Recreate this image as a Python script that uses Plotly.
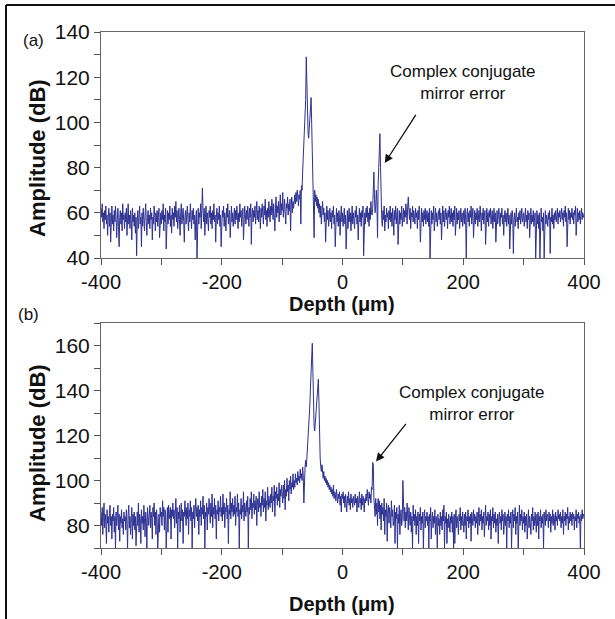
import numpy as np
import plotly.graph_objects as go

# ---------------- data ----------------
depth = np.arange(-400, 401, 1)  # sampling grid (um), 801 samples

amp_a = [
    62,58,64,56,60,53,61,57,63,55,59,50,58,62,54,60,47,57,63,55,
    59,52,61,56,63,58,49,57,62,54,45,58,61,55,60,52,64,57,59,53,
    60,56,62,50,58,64,55,59,53,61,57,48,62,56,59,54,60,51,58,41,
    56,61,53,59,63,55,58,45,60,54,62,57,52,59,64,56,50,58,61,55,
    59,53,62,57,60,48,58,55,63,59,52,60,56,61,54,58,62,49,57,60,
    55,61,57,64,52,59,56,62,44,58,61,55,60,57,63,54,59,51,62,57,
    60,54,63,58,65,56,61,53,59,62,57,50,60,64,55,59,62,56,47,58,
    61,55,59,63,57,52,60,56,64,58,53,61,57,62,55,59,48,57,61,40,
    57,62,55,60,58,64,53,59,71,61,56,62,50,58,63,55,60,57,52,61,
    58,63,55,60,53,61,57,64,56,59,47,58,62,55,60,57,63,54,59,45,
    56,61,58,63,54,60,57,52,62,58,64,55,59,61,49,57,63,56,60,54,
    59,62,55,61,57,63,58,53,60,56,64,58,61,54,59,62,48,57,63,59,
    55,61,57,63,59,54,62,58,64,46,59,62,56,61,58,63,55,60,65,57,
    61,56,63,59,53,62,58,64,60,55,63,59,66,57,61,54,62,58,65,60,
    56,63,59,66,61,57,64,60,52,62,67,58,63,60,65,56,62,68,59,64,
    61,69,58,63,66,60,55,64,62,67,59,64,61,66,52,63,67,60,65,62,
    66,68,64,69,65,70,67,63,68,66,70,55,72,70,78,85,88,92,98,110,
    129,112,98,95,93,97,103,108,111,99,86,74,66,49,70,65,68,63,67,62,
    66,60,64,58,63,55,61,65,59,62,56,60,47,58,63,57,61,54,59,62,
    56,60,53,61,58,63,55,59,45,57,62,56,60,54,61,58,50,59,63,56,
    60,54,58,62,55,59,44,57,61,53,59,62,56,60,52,58,63,55,60,57,
    53,61,58,63,55,59,48,57,62,56,60,54,61,58,63,41,57,60,55,62,
    58,63,56,60,54,62,57,65,60,59,62,68,78,66,60,63,70,65,49,72,
    84,90,95,80,62,57,54,61,57,63,52,59,56,62,58,60,53,61,57,63,
    56,60,54,62,58,50,61,57,63,55,59,62,46,58,61,55,60,57,63,54,
    59,62,56,61,58,64,60,55,63,67,61,57,62,53,60,58,63,56,61,59,
    55,62,58,60,53,61,57,63,59,47,58,62,56,60,54,61,57,62,55,59,
    61,56,60,54,62,40,58,61,55,60,57,63,52,59,62,56,60,54,58,61,
    57,62,55,60,48,58,63,56,61,54,59,62,57,60,53,61,58,63,55,59,
    62,56,60,54,61,57,63,50,58,62,55,60,57,61,53,59,62,56,60,54,
    58,61,55,62,57,40,59,62,56,60,54,61,58,63,55,59,62,49,57,61,
    55,60,57,62,54,59,61,56,63,58,52,60,57,62,55,59,61,46,58,62,
    56,60,54,61,58,62,55,59,61,53,58,62,56,60,47,57,61,55,59,62,
    57,54,60,58,62,55,59,50,57,61,56,60,54,58,62,55,59,44,57,60,
    55,61,58,42,57,60,54,59,62,56,58,53,60,57,61,55,59,62,56,58,
    60,54,58,62,56,59,53,61,57,60,49,58,62,55,59,56,61,54,58,60,
    40,57,61,55,59,53,60,40,57,62,56,58,52,60,40,58,61,55,59,57,
    54,60,57,61,42,58,56,62,55,59,53,60,57,61,56,59,62,55,60,58,
    61,56,59,62,57,60,54,61,58,63,56,60,45,59,62,57,61,55,60,58,
    62,57,60,55,61,59,63,50,58,62,56,60,57,61,55,59,62,57,60,58,
    59,
]

amp_b = [
    86,80,88,76,84,90,79,85,82,72,87,81,84,77,86,89,80,84,74,85,
    82,88,77,84,70,86,80,83,89,78,85,73,84,81,87,79,83,76,86,82,
    84,78,87,81,70,85,89,79,84,76,83,88,74,85,80,86,78,84,71,82,
    86,80,90,77,85,83,72,87,81,84,78,89,83,75,86,82,70,88,84,80,
    85,89,79,86,83,74,88,84,90,80,86,76,87,83,70,81,85,77,88,84,
    86,80,91,84,88,78,87,85,70,82,88,77,89,85,83,88,74,87,84,90,
    83,87,79,85,92,81,88,70,86,83,89,77,85,90,82,87,72,86,84,91,
    85,80,88,83,90,76,87,84,91,82,88,70,86,83,89,79,87,92,84,88,
    82,89,76,87,84,91,80,88,85,93,83,89,70,86,84,90,78,88,85,92,
    86,81,90,84,94,79,88,85,92,83,89,74,87,85,91,82,88,86,93,84,
    88,82,94,85,90,79,88,86,92,83,89,72,87,85,95,83,90,86,92,84,
    89,85,93,80,88,86,94,84,90,70,87,85,92,83,89,86,95,82,90,87,
    84,91,86,93,70,88,85,92,87,95,83,90,88,94,85,91,87,93,80,90,
    92,86,95,88,90,84,93,89,96,86,92,88,95,82,91,89,97,87,93,90,
    88,94,90,97,86,93,91,98,84,95,92,97,89,94,91,99,88,96,93,98,
    94,90,98,92,100,87,96,93,101,95,98,91,100,96,102,94,99,97,103,96,
    100,97,103,99,101,98,104,100,102,99,105,101,103,100,106,102,90,104,106,109,
    106,110,114,118,123,127,134,142,150,158,161,148,132,124,122,126,128,131,137,142,
    145,135,118,110,106,104,107,103,101,104,100,102,99,101,98,100,97,99,96,98,
    95,97,94,96,93,98,92,95,94,91,96,93,90,94,92,95,89,93,86,94,
    92,95,90,93,88,94,91,86,93,90,95,89,92,87,94,90,92,88,93,91,
    89,94,90,92,86,93,91,88,95,90,92,87,94,89,93,91,86,92,90,94,
    91,96,92,89,95,92,94,90,97,96,108,107,92,88,84,92,85,90,80,92,
    86,91,83,89,78,90,85,88,82,92,76,87,84,90,73,86,89,81,88,85,
    79,91,84,87,80,82,89,72,86,83,88,70,85,81,89,76,84,87,80,83,
    100,86,82,88,79,86,82,90,85,78,88,83,80,86,77,84,70,89,82,85,
    80,87,76,84,80,86,72,85,82,88,78,84,81,86,70,83,87,79,84,82,
    86,80,84,70,85,82,88,74,83,86,79,84,81,87,76,84,82,70,85,80,
    83,76,86,80,84,78,87,82,89,70,84,81,86,72,83,79,85,82,77,84,
    81,86,77,84,70,85,72,83,87,79,84,81,76,85,82,88,78,84,80,86,
    83,77,85,80,86,74,84,82,87,79,84,81,85,73,86,83,80,87,82,85,
    79,84,81,86,76,83,88,80,85,82,87,78,84,81,86,75,83,89,80,84,
    82,86,78,85,80,87,74,84,82,88,79,85,81,86,77,83,80,85,72,84,
    86,81,84,78,87,82,85,76,83,86,80,84,70,85,82,87,79,84,81,86,
    70,83,87,79,85,82,88,76,84,81,86,70,83,89,80,85,82,87,78,84,
    81,86,77,84,80,85,74,83,87,79,84,81,76,85,82,88,78,84,80,86,
    83,77,85,80,86,74,84,82,87,79,84,81,85,70,86,83,80,87,82,85,
    84,79,86,82,85,77,84,81,87,80,85,83,78,86,82,84,80,87,83,85,
    82,86,79,84,81,87,76,84,82,86,80,85,83,88,78,84,81,86,82,85,
    80,86,83,85,78,84,82,87,79,85,83,86,81,84,70,85,82,87,83,85,
    84,
]

x_tickvals = [-400, -200, 0, 200, 400]
x_ticktext = ["-400", "-200", "0", "200", "400"]
x_minor = [-300, -100, 100, 300]
ya_tickvals = [40, 60, 80, 100, 120, 140]
ya_minor = [50, 70, 90, 110, 130]
yb_tickvals = [80, 100, 120, 140, 160]
yb_minor = [70, 90, 110, 130, 150, 170]

ann_text = "Complex conjugate<br>mirror error"
x_title = "<b>Depth (μm)</b>"
y_title = "<b>Amplitude (dB)</b>"

# ---------------- figure ----------------
W, H = 615, 619
FONT = "Liberation Sans, Arial, sans-serif"
LINE = "#2e3192"
TXT = "#111"


def fx(v):
    return v / W


def fy(v):
    return 1 - v / H


fig = go.Figure()
fig.add_trace(go.Scatter(x=depth, y=amp_a, mode="lines",
                         line=dict(color=LINE, width=1), xaxis="x", yaxis="y",
                         showlegend=False, hoverinfo="skip"))
fig.add_trace(go.Scatter(x=depth, y=amp_b, mode="lines",
                         line=dict(color=LINE, width=1), xaxis="x2", yaxis="y2",
                         showlegend=False, hoverinfo="skip"))

xdom = [fx(101), fx(584)]
ya_dom = [fy(258), fy(32)]
yb_dom = [fy(548), fy(323)]


def xaxis(anchor):
    return dict(domain=xdom, anchor=anchor, range=[-400, 400],
                tickmode="array", tickvals=x_tickvals, ticktext=x_ticktext,
                ticks="outside", ticklen=6, tickwidth=1, tickcolor="#555",
                minor=dict(tickmode="array", tickvals=x_minor, ticks="outside",
                           ticklen=6, tickwidth=1, tickcolor="#555"),
                showline=True, linecolor="#666", linewidth=1, mirror=True,
                showgrid=False, zeroline=False, automargin=False,
                tickfont=dict(family=FONT, size=20, color=TXT))


def yaxis(anchor, dom, rng, tv, mv):
    return dict(domain=dom, anchor=anchor, range=rng,
                tickmode="array", tickvals=tv,
                ticks="outside", ticklen=6, tickwidth=1, tickcolor="#555",
                minor=dict(tickmode="array", tickvals=mv, ticks="outside",
                           ticklen=6, tickwidth=1, tickcolor="#555"),
                showline=True, linecolor="#666", linewidth=1, mirror=True,
                showgrid=False, zeroline=False, automargin=False,
                tickfont=dict(family=FONT, size=21, color=TXT))


fig.update_layout(
    width=W, height=H,
    margin=dict(l=0, r=0, t=0, b=0),
    paper_bgcolor="white", plot_bgcolor="white",
    xaxis=xaxis("y"),
    yaxis=yaxis("x", ya_dom, [40, 140], ya_tickvals, ya_minor),
    xaxis2=xaxis("y2"),
    yaxis2=yaxis("x2", yb_dom, [70, 170], yb_tickvals, yb_minor),
)


def label(text, x, y, size, **kw):
    return dict(text=text, x=fx(x), y=fy(y), xref="paper", yref="paper",
                xanchor="center", yanchor="middle", showarrow=False,
                font=dict(family=FONT, size=size, color=TXT), **kw)


annotations = [
    label("(a)", 33, 40, 17),
    label("(b)", 28, 314, 17),
    label(x_title, 342, 304, 20),
    label(x_title, 342, 604, 20),
    label(y_title, 37, 158, 22, textangle=-90),
    label(y_title, 37, 443, 22, textangle=-90),
    # panel a annotation
    dict(text=ann_text, x=200, y=117.7, xref="x", yref="y", showarrow=False,
         xanchor="center", yanchor="middle", align="center",
         font=dict(family=FONT, size=17, color=TXT)),
    dict(text="", x=70, y=82, ax=123, ay=104, xref="x", yref="y",
         axref="x", ayref="y", showarrow=True, arrowhead=2, arrowsize=1.3,
         arrowwidth=1.3, arrowcolor=TXT),
    # panel b annotation
    dict(text=ann_text, x=214, y=134.2, xref="x2", yref="y2", showarrow=False,
         xanchor="center", yanchor="middle", align="center",
         font=dict(family=FONT, size=17, color=TXT)),
    dict(text="", x=55.5, y=108.4, ax=107, ay=125.8, xref="x2", yref="y2",
         axref="x2", ayref="y2", showarrow=True, arrowhead=2, arrowsize=1.3,
         arrowwidth=1.3, arrowcolor=TXT),
]
fig.update_layout(annotations=annotations)

# outer frame (left and top edges of the figure box)
fig.add_shape(type="line", xref="paper", yref="paper",
              x0=fx(6), x1=fx(6), y0=0, y1=fy(5),
              line=dict(color=TXT, width=2))
fig.add_shape(type="line", xref="paper", yref="paper",
              x0=fx(6), x1=1, y0=fy(5), y1=fy(5),
              line=dict(color=TXT, width=2))

fig.write_html("out.html",
               config={"displayModeBar": False},
               post_script="document.body.style.margin='0';"
                           "document.body.style.overflow='hidden';")
